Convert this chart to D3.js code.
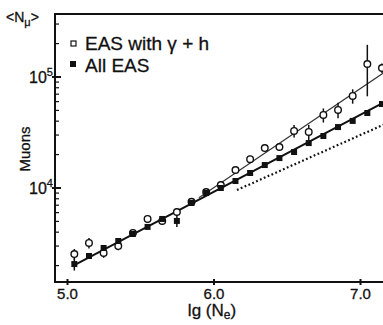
<!DOCTYPE html>
<html>
<head>
<meta charset="utf-8">
<script src="https://cdn.jsdelivr.net/npm/d3@7"></script>
<style>
  body { margin: 0; background: #fff; }
  svg { display: block; }
  text { font-family: "Liberation Sans", Arial, sans-serif; fill: #111; stroke: #111; stroke-width: 0.3; }
</style>
</head>
<body>
<div id="chart"></div>
<script>
// lg(Ne) bins
const lgNe = [5.05, 5.15, 5.25, 5.35, 5.45, 5.55, 5.65, 5.75, 5.85, 5.95, 6.05,
              6.15, 6.25, 6.35, 6.45, 6.55, 6.65, 6.75, 6.85, 6.95, 7.05, 7.15];
// All EAS (filled squares)
const allEAS = [2065, 2440, 2880, 3330, 3860, 4460, 5260, 5050, 7330, 9020, 10000,
                11560, 13650, 16100, 18600, 21100, 25400, 29400, 35400, 40200, 47400, 57100];
const allErr = [260, 150, 150, 150, 150, 200, 250, 600, 300, 300, 300,
                300, 400, 400, 500, 500, 600, 700, 800, 900, 1100, 1400];
// EAS with gamma + h (open circles)
const ghEAS = [2540, 3200, 2600, 3000, 3940, 5260, 5050, 6080, 7500, 9200, 10640,
               14530, 18200, 22900, 23400, 32700, 32000, 45500, 50500, 67500, 131000, 120500];
const ghErr = [280, 350, 250, 250, 300, 400, 400, 450, 500, 600, 700,
               900, 1300, 1500, 1500, 4200, 5000, 6600, 8000, 10000, 64000, 12000];

// fitted lines (endpoints)
const fitAllX = [5.05, 7.3], fitAllY = [2020, 73400];
const fitGhX = [5.9, 7.3],   fitGhY = [8170, 145000];
const dotX = [6.16, 7.3],    dotY = [9590, 44900];

const xTicks = [5.0, 6.0, 7.0];
const yMajor = [1e4, 1e5];

const W = 383, H = 325;
const mLeft = 55, mTop = 14, mBottom = 282;

const svg = d3.select("#chart").append("svg")
  .attr("width", W).attr("height", H);

const x = d3.scaleLinear().domain([5, 7]).range([67, 360]);
const y = d3.scaleLog().domain([1e4, 1e5]).range([188, 77]);

const ink = "#111";

// frame: left, bottom, top
svg.append("path")
  .attr("d", `M${W + 5},${mTop}H${mLeft}V${mBottom}H${W + 5}`)
  .attr("fill", "none").attr("stroke", ink).attr("stroke-width", 2);

// y minor ticks (inward)
const yMinor = d3.scaleLog().domain([y.invert(mBottom), y.invert(mTop)]).ticks()
  .filter(v => !yMajor.includes(v));
svg.append("g").selectAll("line").data(yMinor).join("line")
  .attr("x1", mLeft).attr("x2", mLeft + 4)
  .attr("y1", d => y(d)).attr("y2", d => y(d))
  .attr("stroke", ink).attr("stroke-width", 1.2);

// y major ticks + labels
const ym = svg.append("g").selectAll("g").data(yMajor).join("g")
  .attr("transform", d => `translate(0,${y(d)})`);
ym.append("line").attr("x1", mLeft - 3).attr("x2", mLeft + 6)
  .attr("stroke", ink).attr("stroke-width", 2);
const yl = ym.append("text").attr("x", 29).attr("y", 6)
  .attr("font-size", 16);
yl.append("tspan").text("10");
yl.append("tspan").attr("dy", -7).attr("font-size", 11).text(d => Math.log10(d));

// x ticks
const xg = svg.append("g").attr("transform", `translate(0,${mBottom})`)
  .call(d3.axisBottom(x).tickValues(xTicks).tickSize(3).tickFormat(d3.format(".1f")));
xg.select(".domain").remove();
xg.selectAll(".tick line").attr("y1", -3).attr("y2", 3)
  .attr("stroke", ink).attr("stroke-width", 2);
xg.selectAll(".tick text").attr("y", 6).attr("font-size", 15)
  .attr("font-family", "Liberation Sans, Arial, sans-serif").attr("fill", ink);

// axis titles
const xt = svg.append("text").attr("x", 212).attr("y", 316)
  .attr("text-anchor", "middle").attr("font-size", 17);
xt.append("tspan").text("lg (N");
xt.append("tspan").attr("dy", 3).attr("font-size", 12).text("e");
xt.append("tspan").attr("dy", -3).text(")");

svg.append("text").attr("transform", "translate(30,149) rotate(-90)")
  .attr("text-anchor", "middle").attr("font-size", 15).text("Muons");

const nt = svg.append("text").attr("x", 6).attr("y", 22).attr("font-size", 14);
nt.append("tspan").text("<N");
nt.append("tspan").attr("dy", 4).attr("font-size", 11).text("\u03bc");
nt.append("tspan").attr("dy", -4).text(">");

// lines
const line = d3.line().x(d => x(d[0])).y(d => y(d[1]));
svg.append("path").attr("d", line(d3.zip(fitAllX, fitAllY)))
  .attr("fill", "none").attr("stroke", ink).attr("stroke-width", 2);
svg.append("path").attr("d", line(d3.zip(fitGhX, fitGhY)))
  .attr("fill", "none").attr("stroke", "#333").attr("stroke-width", 1.1);
svg.append("path").attr("d", line(d3.zip(dotX, dotY)))
  .attr("fill", "none").attr("stroke", ink).attr("stroke-width", 2.2)
  .attr("stroke-dasharray", "1.8,2.4");

// error bars
const allPts = lgNe.map((v, i) => ({x: v, y: allEAS[i], e: allErr[i]}));
const ghPts = lgNe.map((v, i) => ({x: v, y: ghEAS[i], e: ghErr[i]}));

svg.append("g").selectAll("line").data(ghPts).join("line")
  .attr("x1", d => x(d.x)).attr("x2", d => x(d.x))
  .attr("y1", d => y(d.y + d.e)).attr("y2", d => y(Math.max(d.y - d.e, 1)))
  .attr("stroke", ink).attr("stroke-width", 1.5);
svg.append("g").selectAll("line").data(allPts).join("line")
  .attr("x1", d => x(d.x)).attr("x2", d => x(d.x))
  .attr("y1", d => y(d.y + d.e)).attr("y2", d => y(d.y - d.e))
  .attr("stroke", ink).attr("stroke-width", 1.5);

// markers
svg.append("g").selectAll("circle").data(ghPts).join("circle")
  .attr("cx", d => x(d.x)).attr("cy", d => y(d.y)).attr("r", 3.3)
  .attr("fill", "#fff").attr("stroke", ink).attr("stroke-width", 1.4);
const s = 6;
svg.append("g").selectAll("rect").data(allPts).join("rect")
  .attr("x", d => x(d.x) - s / 2).attr("y", d => y(d.y) - s / 2)
  .attr("width", s).attr("height", s).attr("fill", ink);

// legend
svg.append("rect").attr("x", 71).attr("y", 41).attr("width", 5).attr("height", 5)
  .attr("fill", "#fff").attr("stroke", ink).attr("stroke-width", 1.2);
svg.append("text").attr("x", 85).attr("y", 50).attr("font-size", 19)
  .text("EAS with \u03b3 + h");
svg.append("rect").attr("x", 70).attr("y", 61).attr("width", 6).attr("height", 6)
  .attr("fill", ink);
svg.append("text").attr("x", 85).attr("y", 72).attr("font-size", 19)
  .text("All EAS");
</script>
</body>
</html>
